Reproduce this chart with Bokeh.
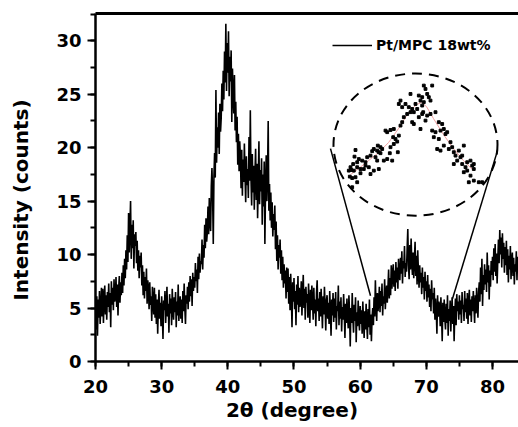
import numpy as np
from bokeh.plotting import figure
from bokeh.models import (Range1d, LinearAxis, FixedTicker, Legend, LegendItem,
                          SingleIntervalTicker)
from bokeh.embed import file_html
from bokeh.resources import INLINE

# ---------------- data ----------------
two_theta_start = 20.0
two_theta_step = 0.1
intensity = [
    5.2, 3.0, 6.1, 2.4, 5.8, 4.1, 6.6, 3.5, 5.0, 6.9,
    4.2, 6.8, 3.6, 5.9, 7.1, 4.4, 6.2, 3.9, 6.5, 5.1,
    7.3, 4.6, 6.4, 3.2, 7.5, 5.3, 6.9, 4.8, 7.7, 5.6,
    6.0, 7.9, 5.1, 7.2, 4.3, 6.8, 8.0, 5.5, 7.4, 6.2,
    8.3, 6.4, 9.0, 7.1, 9.6, 7.8, 10.4, 8.6, 11.8, 9.3,
    13.9, 10.2, 12.5, 15.0, 9.6, 12.8, 10.6, 13.2, 8.7, 11.9,
    10.8, 12.1, 9.2, 11.3, 8.5, 10.4, 7.8, 9.9, 8.8, 10.2,
    7.1, 9.0, 6.2, 8.4, 5.9, 7.9, 6.6, 8.7, 5.4, 7.6,
    6.8, 4.9, 7.4, 5.3, 6.1, 3.8, 7.0, 5.6, 4.4, 6.9,
    4.1, 6.3, 3.5, 5.8, 2.6, 5.2, 6.7, 4.0, 5.5, 3.3,
    6.1, 4.4, 2.1, 5.7, 4.8, 6.6, 3.6, 5.0, 7.0, 4.2,
    5.4, 2.7, 6.3, 4.5, 5.9, 3.4, 6.8, 4.9, 3.9, 6.0,
    4.6, 6.5, 3.2, 5.6, 4.3, 7.2, 3.8, 5.2, 6.1, 4.0,
    5.8, 3.6, 6.6, 4.7, 7.3, 5.0, 3.5, 6.2, 5.4, 7.0,
    4.9, 7.4, 5.6, 8.0, 6.1, 7.7, 5.2, 8.3, 6.6, 7.9,
    6.9, 9.2, 7.5, 8.6, 6.4, 9.8, 7.7, 10.1, 8.3, 9.4,
    9.1, 11.4, 8.6, 10.9, 9.7, 12.8, 10.6, 13.4, 11.2, 12.1,
    14.5, 11.9, 15.3, 13.0, 12.2, 16.4, 18.1, 15.6, 11.0, 17.3,
    19.5, 17.2, 25.4, 18.6, 21.9, 20.0, 23.3, 19.4, 24.1, 21.5,
    22.8, 26.0, 23.4, 27.2, 24.5, 29.0, 26.1, 31.6, 25.3, 29.8,
    27.0, 30.9, 24.8, 28.5, 26.2, 29.1, 22.4, 27.4, 25.0, 23.2,
    26.8, 21.6, 24.3, 20.5, 22.9, 18.4, 21.3, 17.8, 20.6, 19.1,
    16.2, 19.8, 15.5, 18.9, 16.8, 20.4, 17.4, 14.9, 19.2, 16.5,
    18.0, 15.3, 21.0, 16.9, 23.5, 17.1, 14.6, 19.4, 15.8, 18.3,
    14.2, 17.6, 19.9, 15.1, 18.5, 13.4, 16.8, 20.6, 14.7, 17.9,
    15.9, 19.0, 12.8, 17.5, 14.5, 18.7, 11.0, 16.2, 19.3, 15.0,
    17.4, 22.5, 14.1, 16.6, 13.2, 15.8, 12.5, 14.9, 11.7, 13.8,
    12.3, 14.6, 10.5, 13.1, 9.4, 11.8, 8.6, 10.9, 9.7, 11.4,
    8.2, 10.4, 7.6, 9.8, 6.9, 9.1, 7.3, 8.5, 5.9, 8.8,
    6.5, 8.7, 5.4, 7.9, 4.8, 8.2, 6.1, 3.2, 7.4, 5.6,
    7.8, 4.9, 6.6, 3.4, 7.2, 5.3, 8.0, 4.6, 6.9, 5.1,
    5.7, 7.5, 4.3, 6.4, 8.1, 5.0, 6.8, 3.9, 7.0, 5.5,
    6.3, 4.1, 7.3, 5.2, 3.6, 6.7, 4.8, 7.1, 5.6, 3.9,
    6.9, 4.5, 5.8, 3.3, 6.4, 7.6, 4.7, 5.9, 3.8, 6.5,
    4.2, 6.8, 5.0, 3.1, 6.1, 4.4, 7.0, 5.3, 2.9, 5.7,
    6.2, 4.0, 5.5, 3.5, 6.6, 4.6, 2.4, 5.8, 4.3, 6.4,
    3.7, 5.9, 4.1, 6.5, 3.0, 5.2, 4.7, 7.1, 3.4, 5.6,
    4.0, 6.0, 2.8, 5.1, 3.9, 6.3, 4.4, 2.2, 5.4, 3.6,
    5.9, 4.2, 3.1, 6.2, 4.5, 1.4, 5.0, 3.6, 6.4, 4.1,
    2.7, 5.3, 3.8, 6.0, 1.8, 4.6, 3.3, 5.7, 4.0, 2.9,
    5.2, 3.5, 4.8, 2.6, 5.6, 3.9, 2.2, 4.7, 3.0, 5.4,
    3.6, 2.1, 4.9, 3.2, 5.8, 2.5, 4.4, 1.9, 4.1, 5.0,
    3.4, 6.0, 4.2, 7.6, 5.1, 3.8, 6.4, 4.7, 5.5, 7.0,
    4.6, 6.6, 5.2, 7.3, 4.3, 6.1, 5.4, 7.7, 4.9, 6.3,
    7.1, 5.5, 6.9, 8.6, 5.9, 7.8, 6.2, 9.0, 6.8, 8.1,
    9.1, 7.0, 8.5, 6.6, 9.3, 7.4, 8.8, 6.8, 9.6, 8.0,
    7.6, 9.7, 8.2, 10.3, 7.3, 9.4, 8.7, 10.8, 7.9, 9.2,
    8.4, 10.6, 12.4, 9.0, 7.7, 10.9, 8.6, 11.5, 9.3, 8.1,
    10.2, 7.8, 9.6, 11.2, 8.0, 9.9, 7.2, 10.4, 8.5, 6.9,
    9.0, 7.4, 8.3, 6.3, 8.8, 6.9, 7.9, 5.8, 8.4, 6.6,
    7.5, 5.6, 8.1, 6.0, 7.2, 5.1, 6.8, 4.7, 7.6, 5.8,
    6.4, 4.5, 6.9, 3.9, 5.9, 4.8, 2.6, 6.2, 4.2, 5.6,
    5.1, 3.3, 6.0, 4.4, 1.9, 5.5, 3.7, 5.8, 4.0, 3.0,
    5.4, 3.6, 6.2, 2.4, 4.9, 3.8, 5.7, 2.8, 4.6, 6.0,
    3.5, 5.2, 1.9, 4.5, 5.9, 3.4, 6.3, 4.7, 5.6, 3.9,
    6.2, 4.4, 5.7, 3.6, 6.5, 4.9, 5.3, 3.8, 6.6, 4.6,
    5.9, 4.0, 6.4, 3.5, 5.5, 6.7, 4.3, 5.8, 3.7, 6.1,
    4.7, 6.6, 5.0, 3.6, 6.2, 4.5, 6.9, 5.4, 4.1, 6.5,
    7.4, 5.6, 8.8, 6.3, 9.6, 5.2, 8.1, 6.7, 9.1, 7.2,
    8.6, 6.5, 10.2, 7.4, 9.0, 5.8, 8.5, 7.0, 9.4, 8.1,
    9.8, 7.6, 10.6, 8.4, 11.0, 8.0, 10.1, 7.3, 9.5, 11.4,
    9.2, 12.3, 10.0, 11.6, 8.8, 12.0, 9.6, 11.1, 8.3, 10.7,
    9.0, 11.3, 8.1, 10.5, 7.4, 9.9, 8.6, 10.8, 7.7, 9.4,
    10.2, 8.0, 9.7, 7.2, 9.1, 8.4, 10.3, 7.6, 9.8, 8.5,
]
two_theta = [round(two_theta_start + i * two_theta_step, 1) for i in range(len(intensity))]

# inset (magnified 62-75 degree region), in inset units
inset_x = [62.70, 62.60, 63.03, 62.87, 62.47, 62.20, 62.30, 62.13, 62.37, 62.70,
           63.20, 63.53, 63.70, 63.37, 63.87, 64.20, 64.37, 64.53, 64.87, 65.03,
           65.20, 64.93, 65.37, 65.53, 65.87, 66.37, 66.13, 66.20, 66.53, 66.70,
           66.87, 66.47, 67.03, 65.87, 65.70, 66.20, 66.53, 67.20, 67.37, 67.53,
           67.87, 68.20, 68.37, 68.03, 68.53, 68.87, 68.70, 69.20, 69.37, 69.03,
           68.20, 68.37, 68.53, 69.20, 67.70, 67.37, 67.20, 67.03, 69.03, 69.37,
           64.70, 64.87, 65.20, 64.53, 64.03, 63.70, 63.20, 62.87, 64.20, 65.03,
           66.93, 62.53, 62.03, 62.37, 62.87, 69.53,
           69.53, 69.70, 69.87, 70.03, 70.37, 70.20, 69.37, 69.47, 69.87, 69.70,
           70.20, 70.70, 71.03, 71.37, 71.53, 71.20, 70.70, 70.37, 70.53, 71.03,
           71.70, 71.87, 72.20, 71.53, 71.20, 70.87, 72.03, 72.37, 72.53, 72.70,
           73.03, 73.20, 73.37, 73.53, 72.87, 72.53, 73.37, 73.70, 73.87, 74.20,
           74.37, 74.53, 73.87, 73.53, 74.20, 74.53, 74.03, 74.53, 75.03, 75.37]
inset_y = [6.53, 6.20, 6.08, 5.92, 5.83, 5.67, 5.53, 5.20, 5.13, 5.17,
           5.37, 5.58, 5.75, 6.00, 6.17, 6.25, 6.47, 6.58, 6.50, 6.42,
           6.67, 6.75, 6.58, 6.00, 6.08, 6.00, 6.37, 6.67, 6.83, 7.08,
           6.95, 7.17, 7.25, 7.42, 7.50, 7.53, 7.58, 7.75, 7.92, 8.17,
           8.33, 8.42, 8.58, 8.67, 8.42, 8.58, 8.83, 9.00, 9.17, 9.25,
           9.33, 7.92, 7.83, 7.58, 8.83, 8.67, 9.00, 8.83, 8.17, 8.33,
           6.17, 6.00, 6.37, 5.50, 5.67, 5.92, 5.58, 5.67, 5.33, 5.58,
           6.42, 5.50, 5.50, 4.67, 4.92, 8.92,
           9.75, 9.58, 9.33, 9.17, 9.75, 9.00, 8.75, 8.42, 8.25, 8.00,
           8.33, 8.42, 7.92, 7.83, 7.58, 7.50, 7.42, 7.50, 7.17, 7.08,
           7.33, 7.42, 6.92, 6.75, 6.50, 6.58, 6.58, 6.67, 6.42, 6.25,
           6.50, 6.17, 6.25, 6.75, 6.00, 5.83, 5.83, 5.67, 5.92, 6.00,
           5.75, 5.83, 5.50, 5.42, 5.25, 5.58, 4.92, 5.00, 4.92, 4.92]
fit_x = [62.2, 63.0, 64.0, 65.0, 66.0, 67.0, 68.0, 68.8, 69.3, 69.8, 70.5, 71.5, 72.5, 73.5, 74.5]
fit_y = [5.3, 5.6, 6.0, 6.4, 6.9, 7.6, 8.4, 8.8, 8.9, 8.7, 8.1, 7.3, 6.6, 6.0, 5.5]

# inset frame geometry (inset units)
circle_cx, circle_cy, circle_w, circle_h = 68.7, 6.8, 16.4, 7.1
callout_x0 = [60.2, 76.9]
callout_y0 = [6.6, 6.5]
callout_x1 = [64.2, 72.4]
callout_y1 = [-0.75, -0.9]

FONT = "DejaVu Sans"

p = figure(width=518, height=427, output_backend="svg", toolbar_location=None,
           x_range=Range1d(20, 83.93), y_range=Range1d(0, 32.55),
           min_border_left=95, min_border_right=0, min_border_top=13, min_border_bottom=66)
p.outline_line_color = None
p.grid.visible = False
p.background_fill_color = "white"

p.extra_x_ranges = {"inset": Range1d(36.7, 79.0)}
p.extra_y_ranges = {"inset": Range1d(-4.035, 13.35)}

main_line = p.line(two_theta, intensity, line_color="black", line_width=1.6)

# inset
p.ellipse(x=circle_cx, y=circle_cy, width=circle_w, height=circle_h, fill_color=None,
          line_color="black", line_width=2, line_dash="10 7",
          x_range_name="inset", y_range_name="inset")
p.segment(x0=callout_x0, y0=callout_y0, x1=callout_x1, y1=callout_y1,
          line_color="black", line_width=1.5, x_range_name="inset", y_range_name="inset")
p.line(fit_x, fit_y, line_color="#f2a0a0", line_width=1,
       x_range_name="inset", y_range_name="inset")
p.scatter(inset_x, inset_y, marker="square", size=2.8, color="black",
          x_range_name="inset", y_range_name="inset")

# axes
for ax in (p.xaxis[0], p.yaxis[0]):
    ax.axis_line_width = 2.5
    ax.major_tick_line_width = 2
    ax.minor_tick_line_width = 2
    ax.major_tick_in = 0
    ax.minor_tick_in = 0
    ax.major_tick_out = 8
    ax.minor_tick_out = 5
    ax.major_label_text_font = FONT
    ax.major_label_text_font_style = "bold"
    ax.major_label_text_font_size = "18px"
    ax.major_label_text_color = "black"
    ax.axis_label_text_font = FONT
    ax.axis_label_text_font_style = "bold"
    ax.axis_label_text_font_size = "20px"
    ax.axis_label_text_color = "black"

p.xaxis[0].ticker = SingleIntervalTicker(interval=10, num_minor_ticks=2)
p.yaxis[0].ticker = SingleIntervalTicker(interval=5, num_minor_ticks=2)
p.xaxis[0].major_label_standoff = 10
p.yaxis[0].major_label_standoff = 6
p.xaxis[0].axis_label = "2\u03b8 (degree)\u2003\u2002"
p.yaxis[0].axis_label = "Intensity (counts)\u2003\u2005"
p.xaxis[0].axis_label_standoff = 2
p.yaxis[0].axis_label_standoff = 20

top_axis = LinearAxis(ticker=FixedTicker(ticks=[]), axis_line_width=3,
                      major_tick_line_color=None, minor_tick_line_color=None,
                      major_label_text_font_size="0px", major_tick_out=0,
                      major_tick_in=0, major_label_standoff=0)
p.add_layout(top_axis, "above")

legend = Legend(items=[LegendItem(label="Pt/MPC 18wt%", renderers=[main_line])],
                location=(237, 306), glyph_width=40, glyph_height=20, label_height=20,
                label_standoff=4, padding=0, margin=0, spacing=0,
                border_line_color=None, background_fill_alpha=0,
                label_text_font=FONT, label_text_font_style="bold",
                label_text_font_size="14px", label_text_color="black")
p.add_layout(legend)

open("out.html", "w").write(file_html(p, INLINE))
